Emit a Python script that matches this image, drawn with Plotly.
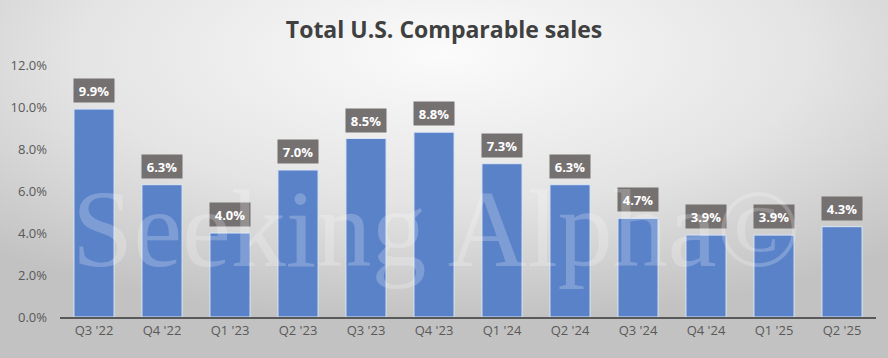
import plotly.graph_objects as go
import base64

quarters = ["Q3 '22", "Q4 '22", "Q1 '23", "Q2 '23", "Q3 '23", "Q4 '23",
            "Q1 '24", "Q2 '24", "Q3 '24", "Q4 '24", "Q1 '25", "Q2 '25"]
comp_sales = [9.9, 6.3, 4.0, 7.0, 8.5, 8.8, 7.3, 6.3, 4.7, 3.9, 3.9, 4.3]
y_ticks = [0, 2, 4, 6, 8, 10, 12]
y_tick_labels = ["0.0%", "2.0%", "4.0%", "6.0%", "8.0%", "10.0%", "12.0%"]
title = "Total U.S. Comparable sales"

W, H = 888, 358
ml, mr, mt, mb = 60, 12, 65, 41
pw, ph = W - ml - mr, H - mt - mb

svg = f'''<svg xmlns="http://www.w3.org/2000/svg" width="{W}" height="{H}">
<defs><radialGradient id="g" cx="50%" cy="15%" r="75%" gradientUnits="objectBoundingBox">
<stop offset="0%" stop-color="#fbfbfb"/><stop offset="55%" stop-color="#e4e4e4"/>
<stop offset="100%" stop-color="#c2c2c2"/></radialGradient></defs>
<rect width="{W}" height="{H}" fill="url(#g)"/></svg>'''
src = "data:image/svg+xml;base64," + base64.b64encode(svg.encode()).decode()

fig = go.Figure()
fig.add_trace(go.Bar(
    x=quarters, y=comp_sales,
    marker=dict(color="#5a82c8", line=dict(color="#dde6f5", width=1)),
    width=0.59, hoverinfo="skip",
))

for q, v in zip(quarters, comp_sales):
    fig.add_annotation(
        x=q, y=v, text=f"<b>{v:.1f}%</b>", showarrow=False,
        yanchor="bottom", yshift=6, width=36, height=19,
        bgcolor="#767171", borderpad=2,
        font=dict(family="Open Sans, DejaVu Sans", size=13, color="white"),
    )

fig.add_annotation(
    xref="paper", yref="paper", x=(70 - ml) / pw, y=(H - mb - 292) / ph,
    xanchor="left", yanchor="bottom", showarrow=False,
    text="Seeking Alpha\u00a9",
    font=dict(family="Liberation Serif", size=110, color="rgba(255,255,255,0.22)"),
)

fig.add_layout_image(
    source=src, xref="paper", yref="paper",
    x=-ml / pw, y=1 + mt / ph, sizex=W / pw, sizey=H / ph,
    xanchor="left", yanchor="top", sizing="stretch", layer="below",
)

fig.update_layout(
    width=W, height=H,
    margin=dict(l=ml, r=mr, t=mt, b=mb),
    paper_bgcolor="#e0e0e0", plot_bgcolor="rgba(0,0,0,0)",
    title=dict(text=f"<b>{title}</b>", x=0.5, xanchor="center", y=1 - 30 / H, yanchor="middle",
               font=dict(family="Open Sans, DejaVu Sans", size=23, color="#404040")),
    showlegend=False,
    xaxis=dict(showgrid=False, showline=True, linecolor="#595959", linewidth=2,
               tickfont=dict(family="Open Sans, DejaVu Sans", size=13, color="#595959"),
               ticks="", fixedrange=True),
    yaxis=dict(range=[0, 12], tickvals=y_ticks, ticktext=y_tick_labels,
               showgrid=False, zeroline=False, showline=False, ticks="",
               ticklabelstandoff=12,
               tickfont=dict(family="Open Sans, DejaVu Sans", size=13, color="#595959"),
               fixedrange=True),
)

fig.write_html("out.html", config={"displayModeBar": False},
               post_script="document.body.style.margin='0';")
